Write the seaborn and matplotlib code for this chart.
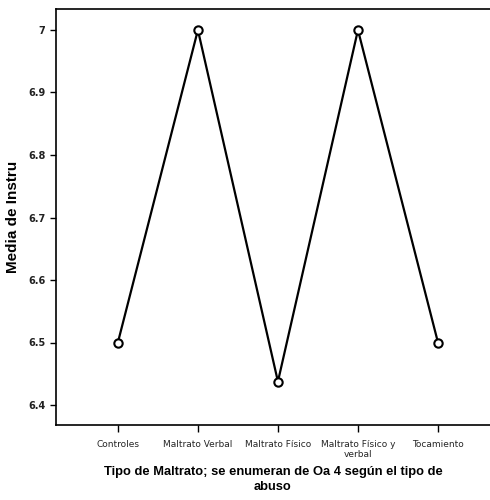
import matplotlib
matplotlib.use('Agg')
import matplotlib.pyplot as plt
import seaborn as sns
import pandas as pd

# Data
tipos = ['Controles', 'Maltrato Verbal', 'Maltrato Físico',
         'Maltrato Físico y\nverbal', 'Tocamiento']
medias = [6.5, 7.0, 6.4375, 7.0, 6.5]
yticks = [6.4, 6.5, 6.6, 6.7, 6.8, 6.9, 7.0]
ytick_labels = ['6.4', '6.5', '6.6', '6.7', '6.8', '6.9', '7']

df = pd.DataFrame({'tipo': tipos, 'media': medias})

sns.set_style('ticks')
plt.rcParams['font.family'] = ['DejaVu Sans']

fig = plt.figure(figsize=(4.9, 5.0), dpi=100)
ax = fig.add_axes([0.114, 0.15, 0.886, 0.832])

sns.lineplot(data=df, x='tipo', y='media', sort=False, color='black',
             linewidth=1.6, marker='o', markersize=6,
             markerfacecolor='white', markeredgecolor='black',
             markeredgewidth=1.5, ax=ax)

ax.set_xlim(-0.775, 4.65)
ax.set_ylim(6.368, 7.0336)
ax.set_yticks(yticks)
ax.set_yticklabels(ytick_labels, fontsize=7, fontweight='bold', color='#222222')
ax.tick_params(axis='x', labelsize=6.5, length=5, width=1, color='black', pad=6)
ax.tick_params(axis='y', length=4, width=1, color='black')
for lab in ax.get_xticklabels():
    lab.set_linespacing(1.05)

for s in ['left', 'bottom', 'top']:
    ax.spines[s].set_color('black')
    ax.spines[s].set_linewidth(1.2)
ax.spines['right'].set_visible(False)

ax.set_ylabel('Media de Instru', fontsize=11, fontweight='bold', labelpad=6,
              family=['Liberation Sans', 'DejaVu Sans'], color='black')
ax.set_xlabel('Tipo de Maltrato; se enumeran de Oa 4 según el tipo de\nabuso',
              fontsize=9.3, fontweight='bold', labelpad=5, color='black',
              family=['Liberation Sans', 'DejaVu Sans'], linespacing=1.4)

fig.savefig('out.png', dpi=100)
